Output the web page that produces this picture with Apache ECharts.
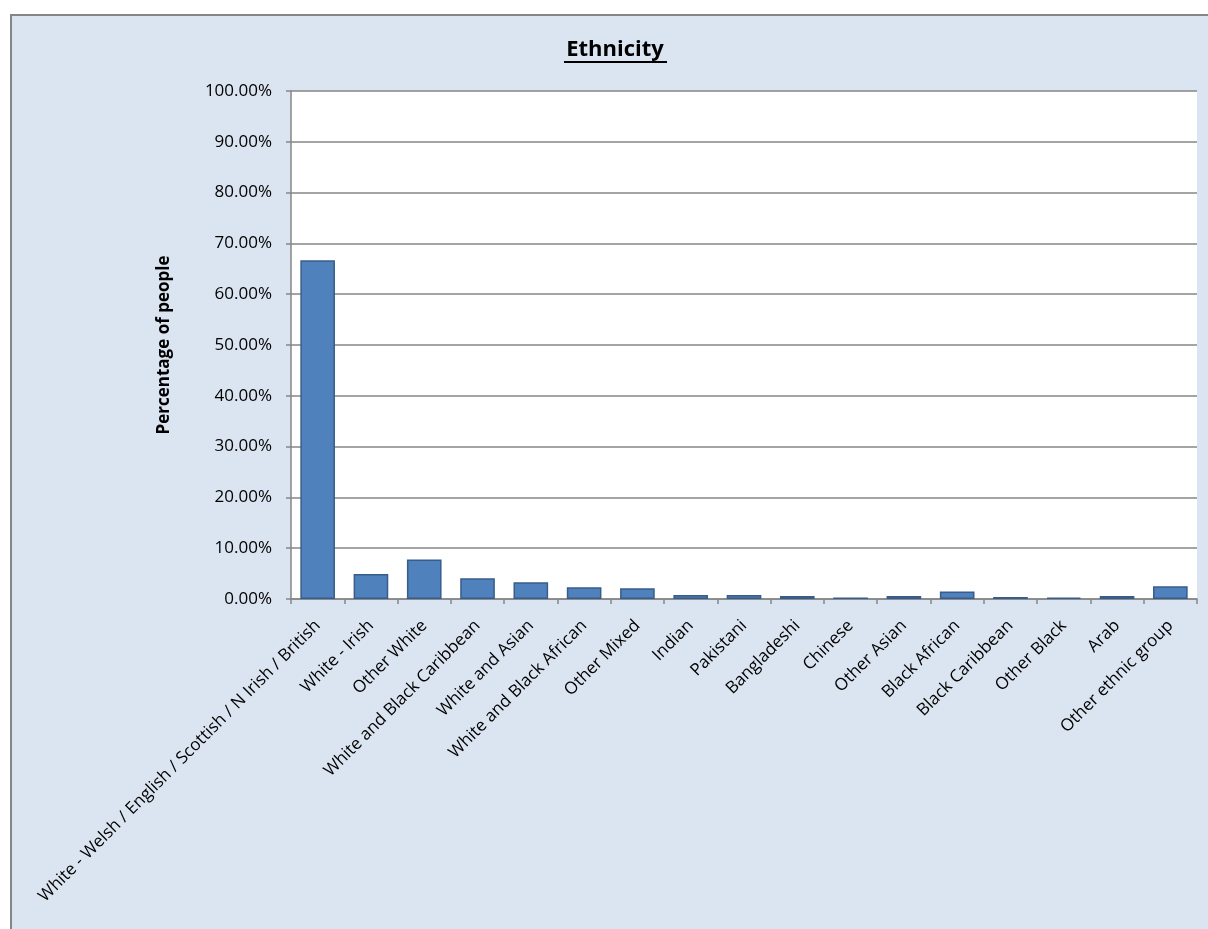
<!DOCTYPE html>
<html>
<head>
<meta charset="utf-8">
<script src="https://cdn.jsdelivr.net/npm/echarts@6/dist/echarts.min.js"></script>
<style>
  html, body { margin: 0; padding: 0; background: #ffffff; }
  #chart { width: 1208px; height: 929px; }
</style>
</head>
<body>
<div id="chart"></div>
<script>
// Ethnic groups shown along the x axis
const categories = [
  'White - Welsh / English / Scottish / N Irish / British',
  'White - Irish',
  'Other White',
  'White and Black Caribbean',
  'White and Asian',
  'White and Black African',
  'Other Mixed',
  'Indian',
  'Pakistani',
  'Bangladeshi',
  'Chinese',
  'Other Asian',
  'Black African',
  'Black Caribbean',
  'Other Black',
  'Arab',
  'Other ethnic group'
];

// Share of people in each group, in percent
const percentages = [66.7, 4.9, 7.8, 4.1, 3.3, 2.3, 2.1, 0.8, 0.8, 0.6, 0.3, 0.6, 1.5, 0.4, 0.25, 0.6, 2.5];

// Value axis range and step, in percent
const yMin = 0;
const yMax = 100;
const yStep = 10;

const FONT = 'Open Sans';
const GRID = '#868686';

const chart = echarts.init(document.getElementById('chart'), null, { renderer: 'canvas' });

chart.setOption({
  backgroundColor: '#ffffff',
  animation: false,
  graphic: [
    {
      type: 'rect',
      z: -10,
      silent: true,
      shape: { x: 11, y: 15, width: 1230, height: 960 },
      style: { fill: '#DBE5F1', stroke: GRID, lineWidth: 2 }
    },
    {
      type: 'text',
      x: 615,
      y: 50,
      style: {
        text: 'Ethnicity',
        fontFamily: FONT,
        fontWeight: 'bold',
        fontSize: 22,
        fill: '#000000',
        align: 'center',
        verticalAlign: 'middle'
      }
    },
    {
      type: 'rect',
      shape: { x: 564, y: 61, width: 103, height: 2 },
      style: { fill: '#000000' }
    }
  ],
  grid: {
    left: 291,
    top: 91,
    right: 11,
    bottom: 330,
    show: true,
    backgroundColor: '#ffffff',
    borderWidth: 0
  },
  xAxis: {
    type: 'category',
    data: categories,
    axisLine: { show: true, lineStyle: { color: GRID, width: 1.5 } },
    axisTick: { show: true, inside: false, length: 5, lineStyle: { color: GRID, width: 1.5 } },
    axisLabel: {
      interval: 0,
      rotate: 45,
      margin: 24,
      fontFamily: FONT,
      fontSize: 17,
      color: '#000000'
    }
  },
  yAxis: {
    type: 'value',
    min: yMin,
    max: yMax,
    interval: yStep,
    name: 'Percentage of people',
    nameLocation: 'middle',
    nameRotate: 90,
    nameGap: 118,
    nameTextStyle: {
      fontFamily: FONT,
      fontWeight: 'bold',
      fontSize: 17,
      color: '#000000'
    },
    axisLine: { show: true, lineStyle: { color: GRID, width: 1.5 } },
    axisTick: { show: true, inside: false, length: 5, lineStyle: { color: GRID, width: 1.5 } },
    splitLine: { show: true, lineStyle: { color: GRID, width: 1.5 } },
    axisLabel: {
      margin: 19,
      fontFamily: FONT,
      fontSize: 17,
      color: '#000000',
      formatter: v => v.toFixed(2) + '%'
    }
  },
  series: [
    {
      type: 'bar',
      data: percentages,
      barCategoryGap: '35%',
      itemStyle: {
        color: '#4F81BD',
        borderColor: '#385D8A',
        borderWidth: 1.5
      }
    }
  ]
});
</script>
</body>
</html>
